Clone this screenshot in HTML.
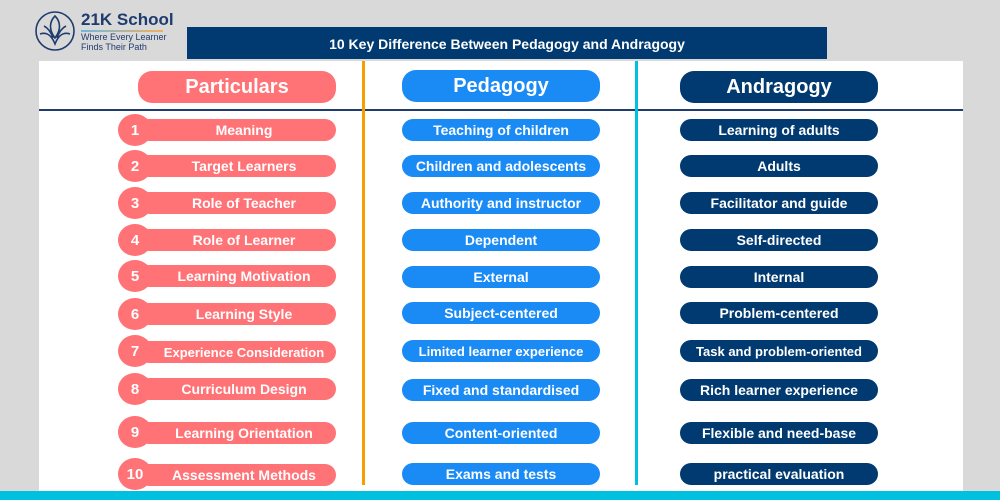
<!DOCTYPE html><html><head><style>
body{margin:0;width:1000px;height:500px;background:#d9d9d9;position:relative;overflow:hidden;font-family:"Liberation Sans",sans-serif}
div{position:absolute;box-sizing:border-box}
.p{height:22px;border-radius:11px;color:#fff;font-weight:bold;font-size:14px;line-height:23px;text-align:center;white-space:nowrap;width:198px}
.a{left:138px;background:#ff7276;padding-left:14px}
.b{left:402px;background:#1a8af5}
.c{left:680px;background:#003a70}
.n{left:118px;width:34px;height:32px;border-radius:50%;background:#ff7276;color:#fff;font-weight:bold;font-size:15px;line-height:34px;text-align:center}
.h{height:32px;border-radius:14px;color:#fff;font-weight:bold;font-size:20px;line-height:32px;text-align:center;width:198px}
</style></head><body>
<svg style="position:absolute;left:34px;top:10px" width="42" height="42" viewBox="0 0 42 42" fill="none" stroke="#1f3c6e" stroke-width="1.6"><circle cx="21" cy="21" r="19"/><path d="M21 6c-6 6-6 14 0 22c6-8 6-16 0-22z"/><path d="M6 24c6-2 11 0 15 10c4-10 9-12 15-10"/><path d="M10 16c4 2 7 6 9 12M32 16c-4 2-7 6-9 12"/></svg>
<div style="left:81px;top:10px;font-size:17px;font-weight:bold;color:#1f3c6e">21K School</div>
<div style="left:81px;top:30px;width:82px;height:2px;background:linear-gradient(90deg,#6fb7e0,#f0b060)"></div>
<div style="left:81px;top:32px;font-size:9px;line-height:10px;color:#1f3c6e">Where Every Learner<br>Finds Their Path</div>
<div style="left:187px;top:27px;width:640px;height:32px;background:#003a70;color:#fff;font-weight:bold;font-size:14px;line-height:34px;text-align:center">10 Key Difference Between Pedagogy and Andragogy</div>
<div style="left:39px;top:61px;width:924px;height:431px;background:#fff"></div>
<div style="left:0;top:491px;width:1000px;height:9px;background:#00c0e0"></div>
<div style="left:39px;top:109px;width:924px;height:1.5px;background:#1f3c6e"></div>
<div style="left:362px;top:61px;width:3px;height:424px;background:#f5a000"></div>
<div style="left:635px;top:61px;width:3px;height:424px;background:#00c0e0"></div>
<div class="h" style="left:138px;top:71px;background:#ff7276">Particulars</div>
<div class="h" style="left:402px;top:70px;background:#1a8af5">Pedagogy</div>
<div class="h" style="left:680px;top:71px;background:#003a70">Andragogy</div>

<div class="p a" style="top:119px">Meaning</div><div class="n" style="top:114px">1</div>
<div class="p b" style="top:119px">Teaching of children</div><div class="p c" style="top:119px">Learning of adults</div>
<div class="p a" style="top:155px">Target Learners</div><div class="n" style="top:150px">2</div>
<div class="p b" style="top:155px">Children and adolescents</div><div class="p c" style="top:155px">Adults</div>
<div class="p a" style="top:192px">Role of Teacher</div><div class="n" style="top:187px">3</div>
<div class="p b" style="top:192px">Authority and instructor</div><div class="p c" style="top:192px">Facilitator and guide</div>
<div class="p a" style="top:229px">Role of Learner</div><div class="n" style="top:224px">4</div>
<div class="p b" style="top:229px">Dependent</div><div class="p c" style="top:229px">Self-directed</div>
<div class="p a" style="top:265px">Learning Motivation</div><div class="n" style="top:260px">5</div>
<div class="p b" style="top:266px">External</div><div class="p c" style="top:266px">Internal</div>
<div class="p a" style="top:303px">Learning Style</div><div class="n" style="top:298px">6</div>
<div class="p b" style="top:302px">Subject-centered</div><div class="p c" style="top:302px">Problem-centered</div>
<div class="p a" style="top:341px;font-size:13px">Experience Consideration</div><div class="n" style="top:335px">7</div>
<div class="p b" style="top:340px;font-size:13px">Limited learner experience</div><div class="p c" style="top:340px;font-size:13px">Task and problem-oriented</div>
<div class="p a" style="top:378px">Curriculum Design</div><div class="n" style="top:373px">8</div>
<div class="p b" style="top:379px">Fixed and standardised</div><div class="p c" style="top:379px">Rich learner experience</div>
<div class="p a" style="top:422px">Learning Orientation</div><div class="n" style="top:416px">9</div>
<div class="p b" style="top:422px">Content-oriented</div><div class="p c" style="top:422px">Flexible and need-base</div>
<div class="p a" style="top:464px">Assessment Methods</div><div class="n" style="top:458px">10</div>
<div class="p b" style="top:463px">Exams and tests</div><div class="p c" style="top:463px">practical evaluation</div>
</body></html>
